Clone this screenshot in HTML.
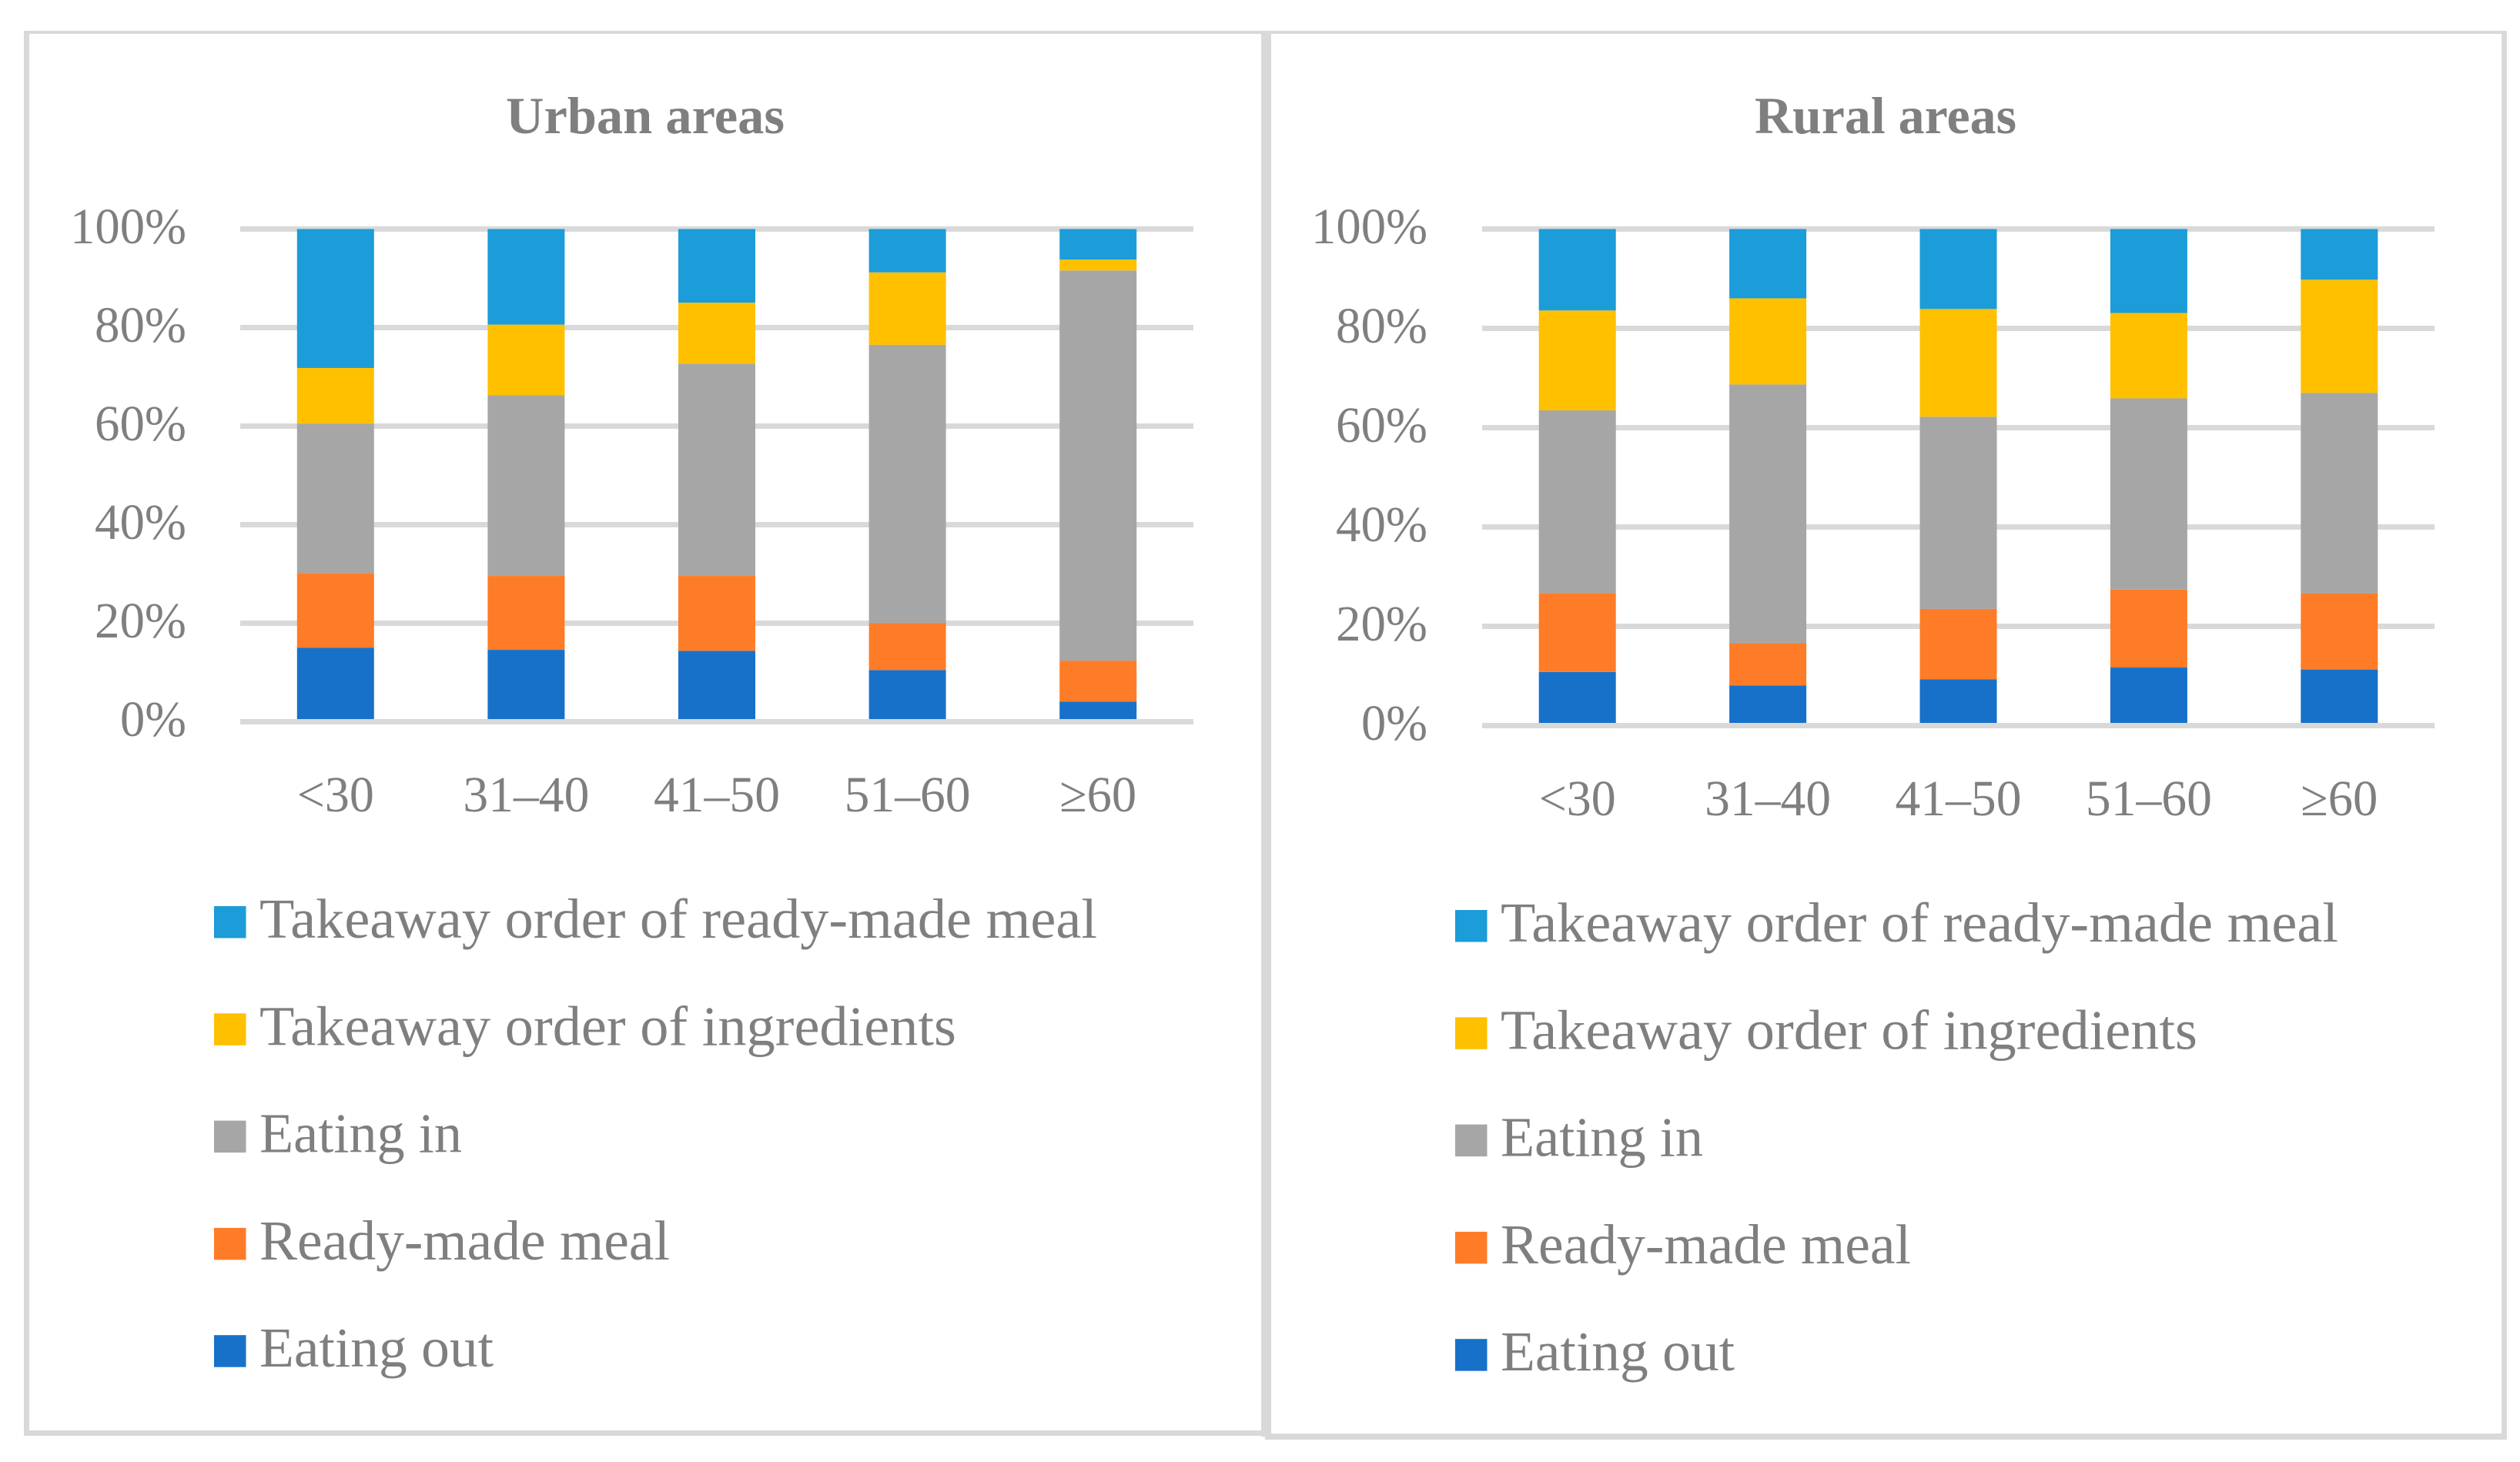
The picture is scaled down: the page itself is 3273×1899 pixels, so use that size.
<!DOCTYPE html>
<html lang="en">
<head>
<meta charset="utf-8">
<title>Urban and rural food consumption by age</title>
<style>
html,body{margin:0;padding:0;background:#fff;}
svg{display:block;}
text{font-family:"Liberation Serif",serif;fill:#7f7f7f;}
</style>
</head>
<body>
<svg id="figure" xmlns="http://www.w3.org/2000/svg" width="3273" height="1899" viewBox="0 0 3273 1899">
  <rect x="0" y="0" width="3273" height="1899" fill="#ffffff"/>
  <g fill="#d9d9d9">
    <rect x="31" y="40" width="7" height="1825"/>
    <rect x="31" y="40" width="1613" height="4"/>
    <rect x="31" y="1858" width="1613" height="7"/>
  </g>
  <g fill="#d9d9d9">
    <rect x="1638" y="40" width="13" height="1826"/>
    <rect x="1638" y="40" width="1618" height="4"/>
    <rect x="3249" y="40" width="7" height="1830"/>
    <rect x="1643" y="1862" width="1613" height="8"/>
  </g>
  <g id="urban"></g>
  <g id="rural"></g>
</svg>
<script>
const categories = ['<30', '31–40', '41–50', '51–60', '≥60'];
const tickValues = [0, 20, 40, 60, 80, 100];
const tickLabels = ['0%', '20%', '40%', '60%', '80%', '100%'];
const seriesNames = ['Eating out', 'Ready-made meal', 'Eating in', 'Takeaway order of ingredients', 'Takeaway order of ready-made meal'];
const seriesColors = ['#1771c9', '#fe7c27', '#a6a6a6', '#ffc000', '#1c9cd9'];

const urbanEatingOut = [15.0, 14.6, 14.4, 10.5, 4.1];
const urbanReadyMade = [15.2, 15.0, 15.2, 9.5, 8.3];
const urbanEatingIn = [30.3, 36.7, 43.1, 56.5, 79.2];
const urbanIngredients = [11.3, 14.3, 12.35, 14.7, 2.2];
const urbanTakeawayMeal = [28.2, 19.4, 14.95, 8.8, 6.2];

const ruralEatingOut = [10.8, 8.1, 9.3, 11.7, 11.3];
const ruralReadyMade = [15.9, 8.5, 14.2, 15.7, 15.3];
const ruralEatingIn = [36.8, 52.1, 38.7, 38.5, 40.4];
const ruralIngredients = [20.1, 17.35, 21.7, 17.2, 22.8];
const ruralTakeawayMeal = [16.4, 13.95, 16.1, 16.9, 10.2];

const SVG_NS = 'http://www.w3.org/2000/svg';

function makeNode(tag, attrs, parent, content) {
  const node = document.createElementNS(SVG_NS, tag);
  Object.keys(attrs).forEach(function (k) { node.setAttribute(k, attrs[k]); });
  if (content !== undefined) node.textContent = content;
  parent.appendChild(node);
  return node;
}

/* The original face is Palatino-like; each string is fitted to its measured width. */
function fitWidth(node, px) {
  node.setAttribute('textLength', px);
  node.setAttribute('lengthAdjust', 'spacingAndGlyphs');
}

function legendWidth(name) {
  if (name === 'Takeaway order of ready-made meal') return 1088;
  if (name === 'Takeaway order of ingredients') return 905;
  if (name === 'Ready-made meal') return 533;
  if (name === 'Eating in') return 263;
  return 304;
}

function tickWidth(label) {
  if (label.length === 4) return 151;
  if (label.length === 3) return 119;
  return 86;
}

function categoryWidth(label) {
  return label.length > 3 ? 164 : 100;
}

function drawPanel(cfg) {
  const root = document.getElementById(cfg.id);
  const plotWidth = cfg.xEnd - cfg.xStart;
  const step = plotWidth / categories.length;
  const barWidth = 100;
  const yScale = function (v) { return cfg.y0 - (v / 100) * (cfg.y0 - cfg.y100); };
  const xCenter = function (i) { return cfg.xStart + step * (i + 0.5); };

  const title = makeNode('text', { x: cfg.titleX, y: 173, 'text-anchor': 'middle', 'font-size': 68, 'font-weight': 700 }, root, cfg.title);
  fitWidth(title, cfg.titleWidth);
  
  

  tickValues.forEach(function (v, i) {
    if (v === 0) return;
    const grid = makeNode('rect', { x: cfg.xStart, y: yScale(v) - 3.5, width: plotWidth, height: 7, fill: '#d9d9d9' }, root);
    
    
  });

  tickValues.forEach(function (v, i) {
    const label = makeNode('text', { x: cfg.tickRight, y: yScale(v) + 18.5, 'text-anchor': 'end', 'font-size': 66 }, root, tickLabels[i]);
    fitWidth(label, tickWidth(tickLabels[i]));
    
    
  });

  categories.forEach(function (cat, i) {
    let cumulative = 0;
    cfg.series.forEach(function (values, s) {
      const top = yScale(cumulative + values[i]);
      const bottom = yScale(cumulative);
      const bar = makeNode('rect', { x: xCenter(i) - barWidth / 2, y: top, width: barWidth, height: bottom - top, fill: seriesColors[s] }, root);
      
      
      cumulative += values[i];
    });
    const label = makeNode('text', { x: xCenter(i), y: cfg.catBaseline, 'text-anchor': 'middle', 'font-size': 66 }, root, cat);
    fitWidth(label, categoryWidth(cat));
    
    
  });

  const axis = makeNode('rect', { x: cfg.xStart, y: yScale(0) - 3.5, width: plotWidth, height: 7, fill: '#d9d9d9' }, root);
  
  

  for (let s = seriesNames.length - 1; s >= 0; s--) {
    const row = seriesNames.length - 1 - s;
    const baseline = cfg.legendTop + 41 + row * 139.3;
    const swatch = makeNode('rect', { x: cfg.legendX, y: baseline - 41, width: 41.5, height: 41.5, fill: seriesColors[s] }, root);
    
    
    const text = makeNode('text', { x: cfg.legendTextX, y: baseline, 'font-size': 73.5 }, root, seriesNames[s]);
    fitWidth(text, legendWidth(seriesNames[s]));
    
    
  }
}

drawPanel({
  id: 'urban', title: 'Urban areas', titleX: 838, titleWidth: 362,
  xStart: 312, xEnd: 1550, y100: 297.5, y0: 937.5,
  tickRight: 242, catBaseline: 1054, legendX: 278, legendTextX: 337, legendTop: 1177,
  series: [urbanEatingOut, urbanReadyMade, urbanEatingIn, urbanIngredients, urbanTakeawayMeal]
});

drawPanel({
  id: 'rural', title: 'Rural areas', titleX: 2449, titleWidth: 340,
  xStart: 1925, xEnd: 3162, y100: 297.5, y0: 942.5,
  tickRight: 1854, catBaseline: 1059, legendX: 1890, legendTextX: 1949, legendTop: 1182,
  series: [ruralEatingOut, ruralReadyMade, ruralEatingIn, ruralIngredients, ruralTakeawayMeal]
});
</script>
</body>
</html>
